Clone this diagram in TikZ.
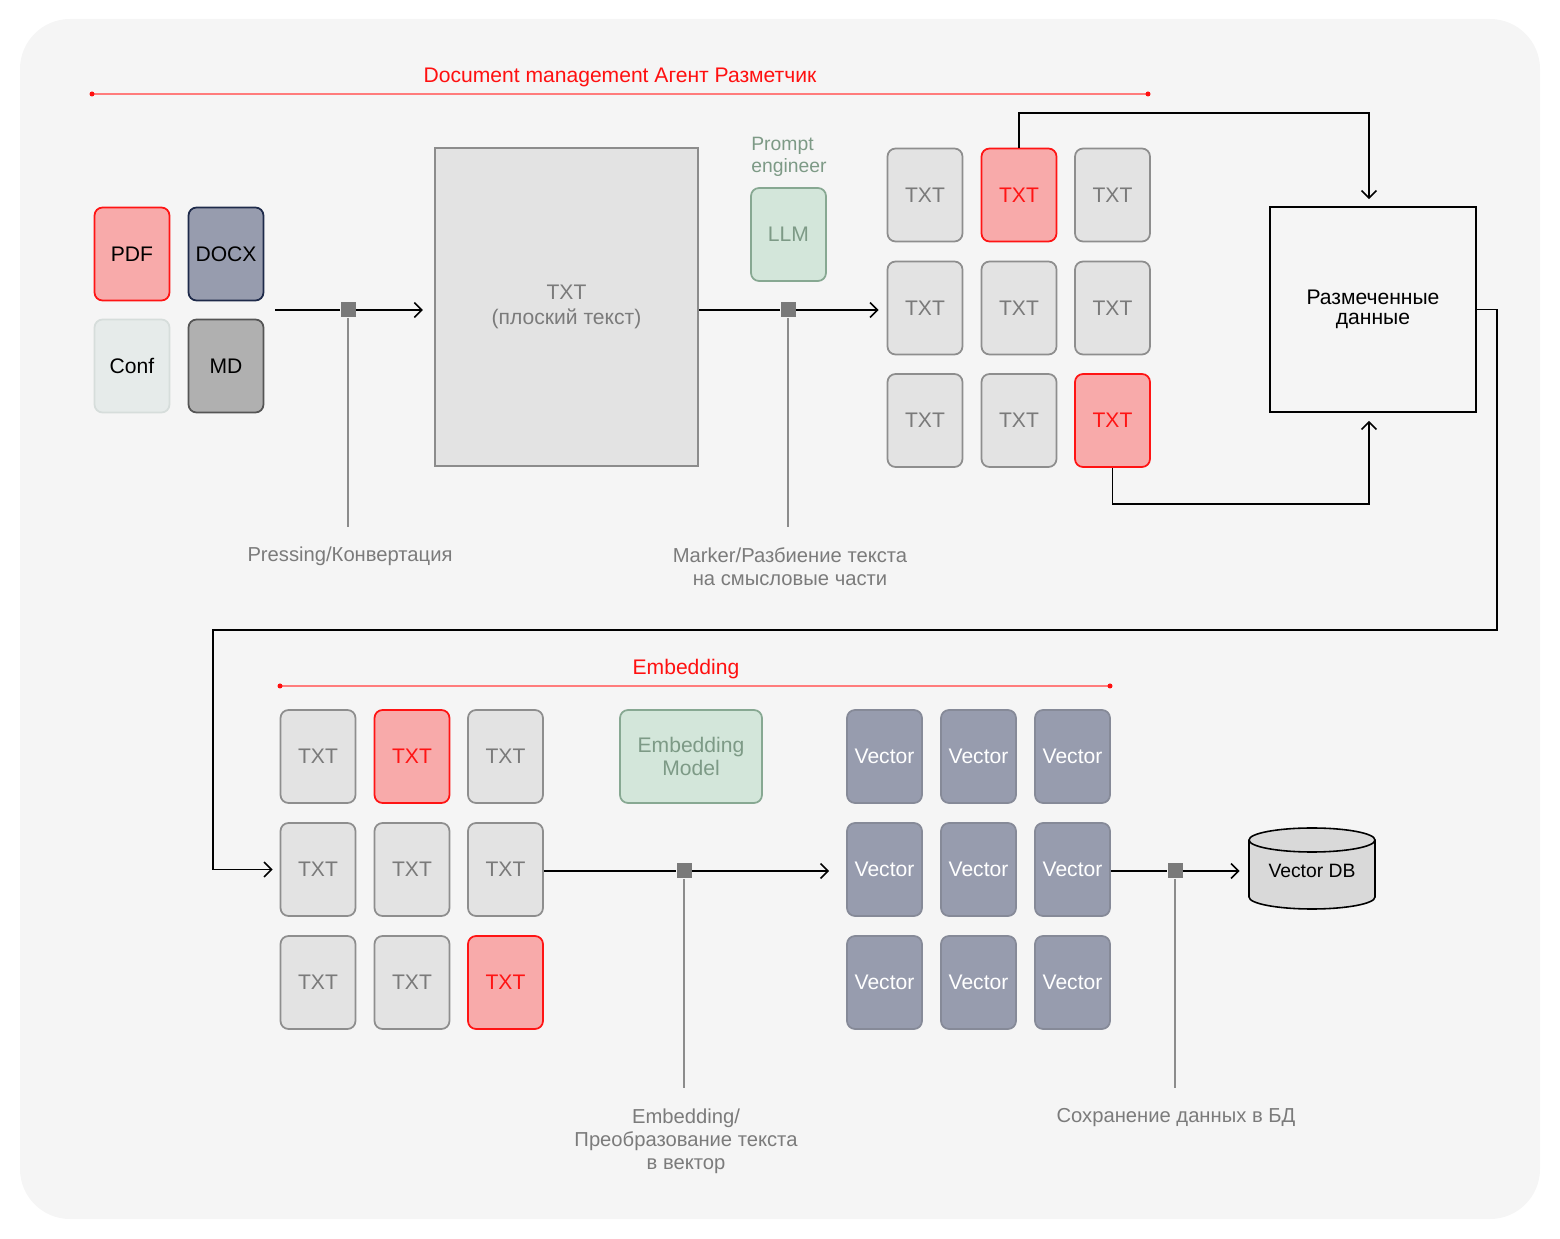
\documentclass[tikz,border=0pt]{standalone}
\usepackage{fontspec}
\setmainfont{Liberation Sans}
\usetikzlibrary{arrows.meta}
\definecolor{pagebg}{HTML}{F5F5F5}
\definecolor{chunkfill}{HTML}{E3E3E3}
\definecolor{chunkline}{HTML}{8E8E8E}
\definecolor{chunktext}{HTML}{7A7A7A}
\definecolor{hotfill}{HTML}{F8AAAA}
\definecolor{hotline}{HTML}{FF1414}
\definecolor{vecfill}{HTML}{979CAE}
\definecolor{vecline}{HTML}{868A98}
\definecolor{navy}{HTML}{1E2A4A}
\definecolor{conffill}{HTML}{E6EBEA}
\definecolor{confline}{HTML}{D6DDDB}
\definecolor{mdfill}{HTML}{B0B0B0}
\definecolor{mdline}{HTML}{555555}
\definecolor{mintfill}{HTML}{D3E6DA}
\definecolor{mintline}{HTML}{87A892}
\definecolor{minttext}{HTML}{7D9A86}
\definecolor{jointgray}{HTML}{7A7A7A}
\definecolor{tickgray}{HTML}{8C8C8C}
\definecolor{notegray}{HTML}{7B7B7B}
\definecolor{titlered}{HTML}{FF1010}
\definecolor{rulered}{HTML}{FF7C7C}
\definecolor{dbfill}{HTML}{D9D9D9}
\tikzset{
  doc/.style={rectangle, rounded corners=0.16cm, minimum width=1.5cm, minimum height=1.86cm,
    line width=1pt, inner sep=0pt, font=\fontsize{12}{14}\selectfont},
  plain/.style={doc, fill=chunkfill, draw=chunkline, text=chunktext},
  hot/.style={doc, fill=hotfill, draw=hotline, text=hotline},
  vec/.style={doc, fill=vecfill, draw=vecline, text=white},
  mint/.style={doc, fill=mintfill, draw=mintline, text=minttext, align=center},
  joint/.style={rectangle, fill=jointgray, minimum size=0.3cm, inner sep=0pt},
  flow/.style={draw=black, line width=0.9pt, -{Straight Barb[length=1.5mm, width=3mm]}},
  tick/.style={draw=tickgray, line width=1pt},
  note/.style={text=notegray, align=center, font=\fontsize{11.5}{13}\selectfont},
  title/.style={text=titlered, font=\fontsize{12}{14}\selectfont},
  rule/.style={draw=rulered, line width=0.8pt},
}

\begin{document}
\begin{tikzpicture}[x=0.02cm, y=-0.02cm]
		%%%%% START %%%%%
		\useasboundingbox (0, 0) rectangle (1560, 1239);
		\fill[pagebg, rounded corners=1cm] (20, 19) rectangle (1540, 1219);
		
		% upper part
		\node[title] (head1) at (620, 77) {Document management Агент Разметчик};
		\draw[rule] (92, 94) -- (1148, 94);
		\fill[titlered] (92, 94) circle (2.5) (1148, 94) circle (2.5);
		
		\node[doc, fill=hotfill, draw=hotline] (pdf) at (132, 254) {PDF};
		\node[doc, fill=vecfill, draw=navy] (docx) at (226, 254) {DOCX};
		\node[doc, fill=conffill, draw=confline] (conf) at (132, 366) {Conf};
		\node[doc, fill=mdfill, draw=mdline] (md) at (226, 366) {MD};
		
		\node[rectangle, minimum width=5.26cm, minimum height=6.36cm, fill=chunkfill, draw=tickgray,
		  line width=1.2pt, text=notegray, align=center, font=\fontsize{12}{14}\selectfont]
		  (flat) at (566.5, 307) {TXT\\(плоский текст)};
		
		\node[text=minttext, align=left, anchor=north west, inner sep=0pt,
		  font=\fontsize{11}{12.5}\selectfont] (role) at (751, 137) {Prompt\\engineer};
		\node[mint] (llm) at (788.5, 234.5) {LLM};
		
		\node[plain] (c11) at (925, 195) {TXT};
		\node[hot] (c12) at (1019, 195) {TXT};
		\node[plain] (c13) at (1112.5, 195) {TXT};
		\node[plain] (c21) at (925, 308) {TXT};
		\node[plain] (c22) at (1019, 308) {TXT};
		\node[plain] (c23) at (1112.5, 308) {TXT};
		\node[plain] (c31) at (925, 420.5) {TXT};
		\node[plain] (c32) at (1019, 420.5) {TXT};
		\node[hot] (c33) at (1112.5, 420.5) {TXT};
		
		\node[rectangle, minimum width=4.12cm, minimum height=4.1cm, draw=black, line width=1pt,
		  align=center, font=\fontsize{12}{11.5}\selectfont] (marked) at (1373, 309.5) {Размеченные\\данные};
		
		\node[joint] (j1) at (348, 310) {};
		\node[joint] (j2) at (788, 310) {};
		\coordinate (src) at (275, 310);
		\draw[flow, shorten >=0.22cm] (src) -- (j1) -- (j1 -| flat.west);
		\draw[flow, shorten >=0.16cm] (j2 -| flat.east) -- (j2) -- (j2 -| c21.west);
		\draw[tick] (j1) -- (348, 527);
		\draw[tick] (j2) -- (788, 527);
		\node[note] (lab1) at (350, 556) {Pressing/Конвертация};
		\node[note] (lab2) at (790, 567) {Marker/Разбиение текста\\на смысловые части};
		
		\draw[flow, shorten >=0.14cm] (c12.north) -- (1019, 113) -- (1369, 113) -- (1369, 113 |- marked.north);
		\draw[flow, shorten >=0.16cm] (c33.south) -- (1112.5, 504) -- (1369, 504) -- (1369, 504 |- marked.south);
		
		% lower part
		\node[title] (head2) at (686, 669) {Embedding};
		\draw[rule] (280, 686) -- (1110, 686);
		\fill[titlered] (280, 686) circle (2.5) (1110, 686) circle (2.5);
		
		\node[plain] (e11) at (318, 756.5) {TXT};
		\node[hot] (e12) at (412, 756.5) {TXT};
		\node[plain] (e13) at (505.5, 756.5) {TXT};
		\node[plain] (e21) at (318, 869.5) {TXT};
		\node[plain] (e22) at (412, 869.5) {TXT};
		\node[plain] (e23) at (505.5, 869.5) {TXT};
		\node[plain] (e31) at (318, 982.5) {TXT};
		\node[plain] (e32) at (412, 982.5) {TXT};
		\node[hot] (e33) at (505.5, 982.5) {TXT};
		
		\draw[flow, shorten >=0.14cm] (marked.east) -| (1497, 630) -- (213, 630) |- (e21.west);
		
		\node[mint, minimum width=2.84cm, font=\fontsize{12}{13}\selectfont] (emb) at (691, 756.5) {Embedding\\Model};
		
		\node[vec] (v11) at (884.5, 756.5) {Vector};
		\node[vec] (v12) at (978.5, 756.5) {Vector};
		\node[vec] (v13) at (1072.5, 756.5) {Vector};
		\node[vec] (v21) at (884.5, 869.5) {Vector};
		\node[vec] (v22) at (978.5, 869.5) {Vector};
		\node[vec] (v23) at (1072.5, 869.5) {Vector};
		\node[vec] (v31) at (884.5, 982.5) {Vector};
		\node[vec] (v32) at (978.5, 982.5) {Vector};
		\node[vec] (v33) at (1072.5, 982.5) {Vector};
		
		\draw[fill=dbfill, line width=0.9pt] (1249, 840) -- (1249, 897) arc[start angle=180, end angle=0, x radius=63, y radius=12] -- (1375, 840);
		\draw[fill=dbfill, line width=0.9pt] (1312, 840) ellipse [x radius=63, y radius=12];
		\node[rectangle, minimum width=2.52cm, minimum height=1.62cm, inner sep=0pt,
		  font=\fontsize{11}{13}\selectfont] (vdb) at (1312, 871) {Vector DB};
		
		\node[joint] (j3) at (684, 871) {};
		\node[joint] (j4) at (1175, 871) {};
		\draw[flow, shorten >=0.34cm] (j3 -| e23.east) -- (j3) -- (j3 -| v21.west);
		\draw[flow, shorten >=0.18cm] (j4 -| v23.east) -- (j4) -- (j4 -| vdb.west);
		\draw[tick] (j3) -- (684, 1088);
		\draw[tick] (j4) -- (1175, 1088);
		\node[note] (lab3) at (686, 1141) {Embedding/\\Преобразование текста\\в вектор};
		\node[note] (lab4) at (1176, 1118) {Сохранение данных в БД};
		%%%%% END %%%%%
	\end{tikzpicture}
\end{document}
